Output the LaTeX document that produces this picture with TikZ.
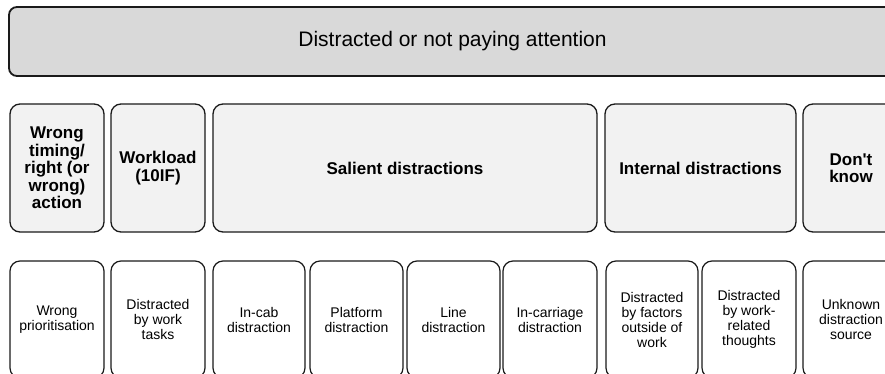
\documentclass[tikz,border=0pt]{standalone}
\usepackage{fontspec}
\setmainfont{Liberation Sans}
\usetikzlibrary{calc}
\definecolor{topgray}{HTML}{D9D9D9}
\definecolor{groupgray}{HTML}{F2F2F2}
\definecolor{edgeblack}{HTML}{1A1A1A}
\tikzstyle{topbox} = [draw=edgeblack, rounded corners=8pt, line width=1.8pt, fill=topgray, minimum width=887pt, minimum height=69pt, inner sep=0pt, font=\fontsize{21}{24}\selectfont]
\tikzstyle{groupbox} = [draw=edgeblack, rounded corners=10pt, line width=1.3pt, fill=groupgray, minimum height=128pt, inner sep=0pt, align=center, font=\fontsize{17}{17.4}\selectfont\bfseries]
\tikzstyle{leafbox} = [draw=edgeblack, rounded corners=10pt, line width=1.2pt, fill=white, minimum height=117pt, inner sep=0pt, align=center, font=\fontsize{14}{15}\selectfont]

\begin{document}
\begin{tikzpicture}[x=1pt, y=-1pt]
\useasboundingbox (0,0) rectangle (885,374);
\clip (0,0) rectangle (885,374);

\node[topbox] (cat_top) at (452.5,41.5) {Distracted or not paying attention};

% groups
\node[groupbox, minimum width=94pt] (grp_wrong) at ($(cat_top)+(-395.5,126.5)$) {Wrong\\timing/\\right (or\\wrong)\\action};
\node[groupbox, minimum width=94pt] (grp_load) at ($(grp_wrong)+(101,0)$) {Workload\\(10IF)};
\node[groupbox, minimum width=384pt] (grp_salient) at ($(grp_load)+(247,0)$) {Salient distractions};
\node[groupbox, minimum width=191pt] (grp_internal) at ($(grp_salient)+(295.5,0)$) {Internal distractions};
\node[groupbox, minimum width=96pt] (grp_unknown) at ($(grp_internal)+(150.5,0)$) {Don\textquotesingle t\\know};

% leaves
\node[leafbox, minimum width=94pt] (leaf_prio) at ($(grp_wrong)+(0,151.5)$) {Wrong\\prioritisation};
\node[leafbox, minimum width=94pt] (leaf_tasks) at ($(grp_load)+(0,151.5)$) {Distracted\\by work\\tasks};
\node[leafbox, minimum width=92pt] (leaf_cab) at ($(leaf_tasks)+(101,0)$) {In-cab\\distraction};
\node[leafbox, minimum width=93pt] (leaf_platform) at ($(leaf_cab)+(97.5,0)$) {Platform\\distraction};
\node[leafbox, minimum width=93pt] (leaf_line) at ($(leaf_platform)+(97,0)$) {Line\\distraction};
\node[leafbox, minimum width=94pt] (leaf_carriage) at ($(leaf_line)+(96.5,0)$) {In-carriage\\distraction};
\node[leafbox, minimum width=92pt] (leaf_outside) at ($(leaf_carriage)+(102,0)$) {Distracted\\by factors\\outside of\\work};
\node[leafbox, minimum width=94pt] (leaf_thoughts) at ($(leaf_outside)+(97,0)$) {Distracted\\by work-\\related\\thoughts};
\node[leafbox, minimum width=96pt] (leaf_source) at ($(grp_unknown)+(0,151.5)$) {Unknown\\distraction\\source};
\end{tikzpicture}
\end{document}
